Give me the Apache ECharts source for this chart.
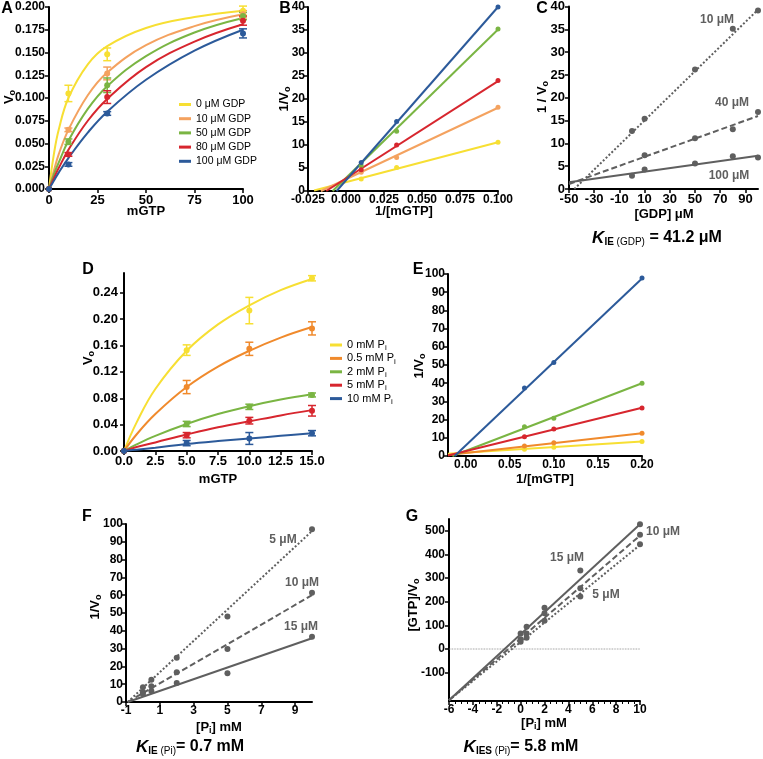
<!DOCTYPE html>
<html>
<head>
<meta charset="utf-8">
<script src="https://cdn.jsdelivr.net/npm/echarts@6/dist/echarts.min.js"></script>
<style>
  html, body { margin: 0; padding: 0; background: #fff; }
  #chart { width: 763px; height: 759px; }
</style>
</head>
<body>
<div id="chart"></div>
<script>
const FONT = '"Liberation Sans", Arial, Helvetica, sans-serif'
const GREY = '#5f5f5f'

// ---- A: v vs mGTP at several GDP concentrations
const gdpLabels = ['0 μM GDP', '10 μM GDP', '50 μM GDP', '80 μM GDP', '100 μM GDP']
const colorsA = ['#f7df33', '#f4a25f', '#7ab543', '#d7262e', '#2c5a9a']
const mgtpA = [0, 10, 30, 100]
const vA = [
  [0, 0.105, 0.148, 0.196],
  [0, 0.065, 0.127, 0.192],
  [0, 0.052, 0.114, 0.190],
  [0, 0.038, 0.101, 0.185],
  [0, 0.027, 0.083, 0.171]
]
const errA = [
  [0, 0.009, 0.007, 0.005],
  [0, 0.002, 0.007, 0.004],
  [0, 0.003, 0.008, 0.004],
  [0, 0.002, 0.007, 0.005],
  [0, 0.002, 0.002, 0.005]
]
const fitXA = [0, 2.5, 5, 10, 20, 30, 50, 75, 100]
const fitA = [
  [0, 0.038, 0.065, 0.100, 0.137, 0.157, 0.177, 0.189, 0.196],
  [0, 0.020, 0.038, 0.065, 0.103, 0.128, 0.158, 0.179, 0.192],
  [0, 0.016, 0.029, 0.053, 0.088, 0.113, 0.146, 0.172, 0.188],
  [0, 0.012, 0.023, 0.043, 0.075, 0.099, 0.134, 0.162, 0.181],
  [0, 0.009, 0.018, 0.034, 0.062, 0.085, 0.120, 0.152, 0.175]
]
const ticksAx = [0, 25, 50, 75, 100]
const ticksAy = [0, 0.025, 0.05, 0.075, 0.1, 0.125, 0.15, 0.175, 0.2]

// ---- B: Lineweaver-Burk of A (same colour order as A)
const invSB = [0.01, 0.0333, 0.1]
const invVB = [
  [2.6, 5.1, 10.6],
  [4.1, 7.3, 18.2],
  [5.5, 13.0, 35.2],
  [4.6, 10.0, 24.0],
  [6.2, 15.1, 40.0]
]
const fitB = [
  [[-0.021, 0.1], [0.1, 10.6]],
  [[-0.0165, 0], [0.1, 18.1]],
  [[-0.0088, 0], [0.1, 35.1]],
  [[-0.013, 0], [0.1, 23.9]],
  [[-0.0062, 0], [0.1, 40.0]]
]
const ticksBx = [-0.025, 0, 0.025, 0.05, 0.075, 0.1]
const ticksBy = [0, 5, 10, 15, 20, 25, 30, 35, 40]

// ---- C: Dixon plot, 1/v vs [GDP]
const dixonLabels = ['10 μM', '40 μM', '100 μM']
const gdpC = [0, 10, 50, 80, 100]
const invVC = [
  [12.7, 15.4, 26.2, 35.1, 39.1],
  [null, 7.4, 11.1, 13.1, 16.9],
  [2.9, 4.3, 5.6, 7.2, 6.9]
]
const fitC = [
  [[-45.8, 0], [100, 39.3]],
  [[-50, 1.1], [100, 16.0]],
  [[-50, 1.5], [100, 7.3]]
]
const ticksCx = [-50, -30, -10, 10, 30, 50, 70, 90]
const ticksCy = [0, 5, 10, 15, 20, 25, 30, 35, 40]

// ---- D: v vs mGTP at several Pi concentrations
const piConc = ['0', '0.5', '2', '5', '10']
const colorsD = ['#f7df33', '#f08a2c', '#7ab543', '#d7262e', '#2c5a9a']
const mgtpD = [0, 5, 10, 15]
const vD = [
  [0, 0.153, 0.213, 0.262],
  [0, 0.097, 0.155, 0.186],
  [0, 0.041, 0.067, 0.085],
  [0, 0.024, 0.046, 0.061],
  [0, 0.012, 0.019, 0.027]
]
const errD = [
  [0, 0.008, 0.020, 0.004],
  [0, 0.010, 0.010, 0.010],
  [0, 0.004, 0.004, 0.003],
  [0, 0.004, 0.005, 0.008],
  [0, 0.004, 0.009, 0.004]
]
const fitXD = [0, 1, 2.5, 5, 7.5, 10, 12.5, 15]
const fitD = [
  [0, 0.043, 0.094, 0.152, 0.192, 0.221, 0.244, 0.261],
  [0, 0.025, 0.056, 0.097, 0.128, 0.152, 0.172, 0.188],
  [0, 0.010, 0.023, 0.041, 0.056, 0.068, 0.078, 0.086],
  [0, 0.006, 0.013, 0.025, 0.036, 0.045, 0.054, 0.062],
  [0, 0.002, 0.005, 0.0105, 0.015, 0.019, 0.023, 0.027]
]
const ticksDx = [0, 2.5, 5, 7.5, 10, 12.5, 15]
const ticksDy = [0, 0.04, 0.08, 0.12, 0.16, 0.2, 0.24]

// ---- E: Lineweaver-Burk of D (same colour order as D)
const invSE = [0.0667, 0.1, 0.2]
const invVE = [
  [3.7, 4.8, 7.9],
  [5.5, 7.3, 12.5],
  [16.1, 20.7, 40.0],
  [10.6, 14.9, 26.4],
  [37.3, 51.4, 97.8]
]
const fitE = [
  [[-0.02, 1.2], [0.2, 8.0]],
  [[-0.02, 0.5], [0.2, 12.5]],
  [[-0.015, 0], [0.2, 40.0]],
  [[-0.02, 0.3], [0.2, 26.5]],
  [[-0.0125, 0], [0.2, 97.5]]
]
const ticksEx = [0, 0.05, 0.1, 0.15, 0.2]
const ticksEy = [0, 10, 20, 30, 40, 50, 60, 70, 80, 90, 100]

// ---- F: Dixon plot 1/v vs [Pi]
const fLabels = ['5 μM', '10 μM', '15 μM']
const piF = [0, 0.5, 2, 5, 10]
const invVF = [
  [8.3, 12.5, 24.8, 48.0, 97.0],
  [5.5, 8.8, 16.7, 29.8, 61.4],
  [4.5, 6.2, 10.7, 16.1, 36.7]
]
const fitF = [
  [[-0.9, 0], [10, 96]],
  [[-0.9, 0], [10, 60]],
  [[-0.9, 0], [10, 35.8]]
]
const ticksFx = [-1, 1, 3, 5, 7, 9]
const ticksFy = [0, 10, 20, 30, 40, 50, 60, 70, 80, 90, 100]

// ---- G: [GTP]/v vs [Pi]
const gLabels = ['15 μM', '10 μM', '5 μM']
const piG = [0, 0.5, 2, 5, 10]
const ratioG = [
  [66, 94.5, 175, 332, 528],
  [41, 66, 151, 257, 483],
  [31, 48, 119, 222, 443]
]
const fitG = [
  [[-6, -217], [10, 528]],
  [[-6, -217], [10, 480]],
  [[-6, -217], [10, 440]]
]
const ticksGy = [-100, 0, 100, 200, 300, 400, 500]

const dashes = [[2, 2], [6, 3], 'solid']

const grids = [
  { left: 49, top: 7, width: 194, height: 182 },    // A
  { left: 308, top: 7, width: 190, height: 184 },   // B
  { left: 569, top: 6, width: 189, height: 183 },   // C
  { left: 124, top: 273, width: 188, height: 178 }, // D
  { left: 448, top: 274, width: 194, height: 182 }, // E
  { left: 126, top: 524, width: 186, height: 178 }, // F
  { left: 449, top: 519, width: 191, height: 182 }  // G
]

function valueAxis(gridIndex, min, max, ticks, digits, size, margin) {
  return {
    type: 'value', gridIndex, min, max,
    axisLine: { show: true, onZero: false, lineStyle: { color: '#000', width: 2 } },
    axisTick: { show: true, length: 4, customValues: ticks, lineStyle: { color: '#000', width: 1.5 } },
    axisLabel: {
      customValues: ticks, margin: margin || 3, color: '#000', fontFamily: FONT, fontWeight: 'bold', fontSize: size || 12,
      formatter: v => Number(v).toFixed(digits)
    },
    splitLine: { show: false }
  }
}

const zip = (xs, ys) => xs.map((x, i) => [x, ys[i]]).filter(p => p[1] != null)

function fitLine(idx, data, color, name, extra) {
  return Object.assign({
    type: 'line', name, xAxisIndex: idx, yAxisIndex: idx, data,
    symbol: 'none', silent: true, z: 2,
    lineStyle: { color, width: 2 }, itemStyle: { color }
  }, extra)
}

function dots(idx, data, color, size) {
  return {
    type: 'scatter', xAxisIndex: idx, yAxisIndex: idx, data, silent: true, z: 4,
    symbolSize: size, itemStyle: { color, opacity: 1 }
  }
}

function errorBars(idx, xs, ys, errs, color) {
  const data = xs.map((x, i) => [x, ys[i], errs[i]]).filter(d => d[2] > 0)
  return {
    type: 'custom', xAxisIndex: idx, yAxisIndex: idx, data, silent: true, z: 3,
    encode: { x: 0, y: 1 },
    renderItem(params, api) {
      const x = api.value(0)
      const y = api.value(1)
      const e = api.value(2)
      const hi = api.coord([x, y + e])
      const lo = api.coord([x, y - e])
      const w = 4
      const st = { stroke: color, lineWidth: 1.5 }
      return {
        type: 'group',
        children: [
          { type: 'line', shape: { x1: hi[0], y1: hi[1], x2: lo[0], y2: lo[1] }, style: st },
          { type: 'line', shape: { x1: hi[0] - w, y1: hi[1], x2: hi[0] + w, y2: hi[1] }, style: st },
          { type: 'line', shape: { x1: lo[0] - w, y1: lo[1], x2: lo[0] + w, y2: lo[1] }, style: st }
        ]
      }
    }
  }
}

const xAxes = []
const yAxes = []
const series = []

// A
xAxes.push(valueAxis(0, 0, 100, ticksAx, 0, 13, 5))
yAxes.push(valueAxis(0, 0, 0.2, ticksAy, 3, 12, 4))
gdpLabels.forEach((name, i) => {
  series.push(fitLine(0, zip(fitXA, fitA[i]), colorsA[i], name, { smooth: 0.4 }))
  series.push(errorBars(0, mgtpA, vA[i], errA[i], colorsA[i]))
  series.push(dots(0, zip(mgtpA, vA[i]), colorsA[i], 6))
})

// B
xAxes.push(valueAxis(1, -0.025, 0.1, ticksBx, 3))
yAxes.push(valueAxis(1, 0, 40, ticksBy, 0))
invVB.forEach((ys, i) => {
  series.push(fitLine(1, fitB[i], colorsA[i], 'B' + i))
  series.push(dots(1, zip(invSB, ys), colorsA[i], 5))
})

// C
xAxes.push(valueAxis(2, -50, 100, ticksCx, 0, 13, 4))
yAxes.push(valueAxis(2, 0, 40, ticksCy, 0, 13, 4))
invVC.forEach((ys, i) => {
  series.push(fitLine(2, fitC[i], GREY, 'C' + i, { lineStyle: { color: GREY, width: 2, type: dashes[i] } }))
  series.push(dots(2, zip(gdpC, ys), GREY, 6))
})

// D
xAxes.push(valueAxis(3, 0, 15, ticksDx, 1, 13, 4))
yAxes.push(valueAxis(3, 0, 0.27, ticksDy, 2, 13, 6))
piConc.forEach((c, i) => {
  series.push(fitLine(3, zip(fitXD, fitD[i]), colorsD[i], c + ' mM Pi', { smooth: 0.4 }))
  series.push(errorBars(3, mgtpD, vD[i], errD[i], colorsD[i]))
  series.push(dots(3, zip(mgtpD, vD[i]), colorsD[i], 6))
})

// E
xAxes.push(valueAxis(4, -0.02, 0.2, ticksEx, 2))
yAxes.push(valueAxis(4, 0, 100, ticksEy, 0))
invVE.forEach((ys, i) => {
  series.push(fitLine(4, fitE[i], colorsD[i], 'E' + i))
  series.push(dots(4, zip(invSE, ys), colorsD[i], 5))
})

// F
xAxes.push(valueAxis(5, -1, 10, ticksFx, 0))
yAxes.push(valueAxis(5, 0, 100, ticksFy, 0))
invVF.forEach((ys, i) => {
  series.push(fitLine(5, fitF[i], GREY, 'F' + i, { lineStyle: { color: GREY, width: 2, type: dashes[i] } }))
  series.push(dots(5, zip(piF, ys), GREY, 6))
})

// G
const gx = valueAxis(6, -6, 10, null, 0)
delete gx.axisTick.customValues
delete gx.axisLabel.customValues
gx.interval = 2
gx.minorTick = { show: true, splitNumber: 4, length: 3, lineStyle: { color: '#000', width: 1 } }
xAxes.push(gx)
yAxes.push(valueAxis(6, -220, 550, ticksGy, 0, 12, 4))
series.push(fitLine(6, [[-6, 0], [10, 0]], '#777', 'G0', { lineStyle: { color: '#777', width: 0.8, type: 'dotted' } }))
const gDash = ['solid', [6, 3], [2, 2]]
ratioG.forEach((ys, i) => {
  series.push(fitLine(6, fitG[i], GREY, 'G' + (i + 1), { lineStyle: { color: GREY, width: 2, type: gDash[i] } }))
  series.push(dots(6, zip(piG, ys), GREY, 6))
})

// ---- texts
const rich = {
  b: { fontFamily: FONT, fontWeight: 'bold', fontSize: 13, lineHeight: 15 },
  s: { fontFamily: FONT, fontWeight: 'bold', fontSize: 9, lineHeight: 2, padding: [8, 0, 0, 0] },
  k: { fontFamily: FONT, fontWeight: 'bold', fontStyle: 'italic', fontSize: 17, lineHeight: 20 },
  ks: { fontFamily: FONT, fontWeight: 'bold', fontSize: 10, lineHeight: 2, padding: [8, 0, 0, 0] },
  kp: { fontFamily: FONT, fontWeight: 'normal', fontSize: 10, lineHeight: 2, padding: [8, 0, 0, 0] },
  kb: { fontFamily: FONT, fontWeight: 'bold', fontSize: 16, lineHeight: 20 }
}

function label(x, y, text, rot, font, fill) {
  const el = {
    type: 'text', x, y, silent: true, z: 10,
    style: { text, rich, fill: fill || '#000', font: font || ('bold 13px ' + FONT), align: 'center', verticalAlign: 'middle' }
  }
  if (rot) el.rotation = Math.PI / 2
  return el
}

const letterFont = 'bold 16px ' + FONT
const curveFont = 'bold 12px ' + FONT
const graphics = [
  label(7, 9, 'A', false, letterFont),
  label(285, 9, 'B', false, letterFont),
  label(542, 9, 'C', false, letterFont),
  label(88, 270, 'D', false, letterFont),
  label(418, 270, 'E', false, letterFont),
  label(87, 517, 'F', false, letterFont),
  label(412, 517, 'G', false, letterFont),

  label(9, 97, '{b|V}{s|o}', true),
  label(284, 99, '{b|1/V}{s|o}', true),
  label(542, 97, '{b|1 / V}{s|o}', true),
  label(88, 358, '{b|V}{s|o}', true),
  label(419, 366, '{b|1/V}{s|o}', true),
  label(95, 607, '{b|1/V}{s|o}', true),
  label(413, 605, '{b|[GTP]/V}{s|o}', true),

  label(146, 211, '{b|mGTP}'),
  label(404, 211, '{b|1/[mGTP]}'),
  label(664, 214, '{b|[GDP] μM}'),
  label(218, 479, '{b|mGTP}'),
  label(545, 479, '{b|1/[mGTP]}'),
  label(219, 727, '{b|[P}{s|i}{b|] mM}'),
  label(544, 723, '{b|[P}{s|i}{b|] mM}'),

  label(657, 238, '{k|K}{ks|IE }{kp|(GDP)}{kb| = 41.2 μM}'),
  label(190, 747, '{k|K}{ks|IE }{kp|(Pi)}{kb|= 0.7 mM}'),
  label(521, 747, '{k|K}{ks|IES }{kp|(Pi)}{kb|= 5.8 mM}'),

  label(717, 20, dixonLabels[0], false, curveFont, GREY),
  label(732, 103, dixonLabels[1], false, curveFont, GREY),
  label(729, 176, dixonLabels[2], false, curveFont, GREY),
  label(283, 540, fLabels[0], false, curveFont, GREY),
  label(302, 583, fLabels[1], false, curveFont, GREY),
  label(301, 627, fLabels[2], false, curveFont, GREY),
  label(567, 558, gLabels[0], false, curveFont, GREY),
  label(663, 532, gLabels[1], false, curveFont, GREY),
  label(606, 595, gLabels[2], false, curveFont, GREY)
]

const chart = echarts.init(document.getElementById('chart'))
chart.setOption({
  animation: false,
  backgroundColor: '#fff',
  grid: grids,
  xAxis: xAxes,
  yAxis: yAxes,
  legend: [
    {
      data: gdpLabels, orient: 'vertical', left: 174, top: 93, selectedMode: false,
      icon: 'rect', itemWidth: 12, itemHeight: 3, itemGap: 1.2,
      textStyle: { fontFamily: FONT, fontSize: 10.5, lineHeight: 13, color: '#000' }
    },
    {
      data: piConc.map(c => c + ' mM Pi'), orient: 'vertical', left: 325, top: 333, selectedMode: false,
      icon: 'rect', itemWidth: 12, itemHeight: 3, itemGap: -0.6,
      formatter: name => '{n|' + name.slice(0, -1) + '}{s|i}',
      textStyle: {
        color: '#000',
        rich: {
          n: { fontFamily: FONT, fontSize: 11, lineHeight: 12, color: '#000' },
          s: { fontFamily: FONT, fontSize: 8, lineHeight: 2, padding: [6, 0, 0, 0], color: '#000' }
        }
      }
    }
  ],
  series,
  graphic: graphics
})
</script>
</body>
</html>
